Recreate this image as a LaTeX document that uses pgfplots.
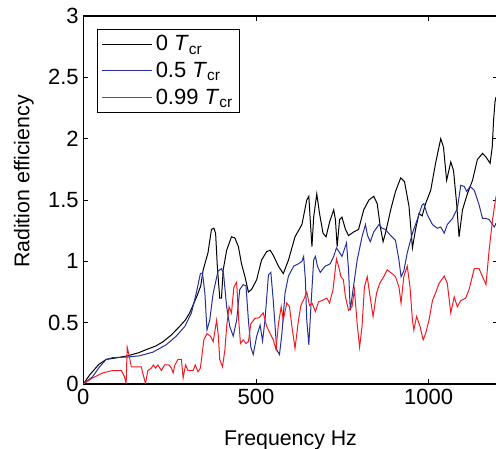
\documentclass[border=0pt]{standalone}
\usepackage{fontspec}
\setmainfont{Liberation Sans}
\usepackage{pgfplots}
\pgfplotsset{compat=1.18}
\definecolor{cblue}{RGB}{38,48,150}
\definecolor{cred}{RGB}{240,28,36}
\begin{document}
\begin{tikzpicture}
\begin{axis}[
  scale only axis,
  width=310.8pt, height=276pt,
  xmin=0, xmax=1200, ymin=0, ymax=3,
  xtick={0,500,1000},
  ytick={0,0.5,1,1.5,2,2.5,3},
  /pgf/number format/1000 sep={},
  /pgf/number format/assume math mode=true,
  tick label style={font=\fontsize{16.5}{19}\selectfont},
  label style={font=\fontsize{16}{19}\selectfont},
  tick align=inside,
  major tick length=3.75pt,
  tick style={black, line width=0.6pt},
  axis line style={black, line width=0.8pt},
  xlabel={Frequency Hz},
  ylabel={Radition efficiency},
  xlabel style={at={(axis description cs:0.5,-0.166)}, anchor=base},
  ylabel style={at={(axis description cs:-0.13,0.55)}, anchor=base, rotate=0},
  legend cell align=left,
  legend style={at={(0.034,0.965)}, anchor=north west, draw=black, line width=0.6pt,
    font=\fontsize{16.5}{19.5}\selectfont, inner xsep=3pt, inner ysep=2.5pt,
    row sep=2.5pt, nodes={inner sep=2.2pt}},
  legend image code/.code={\draw[#1, line width=0.75pt] (0pt,0pt) -- (37.5pt,0pt);},
  every axis plot/.append style={line width=0.75pt},
]
\addplot[color=black, draw=black] coordinates {
(0,0) (20,0.08) (45,0.16) (66,0.20) (100,0.215) (129,0.23) (160,0.255) (182,0.28) (210,0.31) (231,0.345) (255,0.40) (279,0.47) (295,0.52) (308,0.58) (328,0.71) (340,0.80) (347,0.93) (361,1.07) (371,1.26) (378,1.27) (383,1.23) (388,0.96) (395,0.70) (400,0.70) (405,0.93) (415,1.09) (429,1.20) (439,1.19) (449,1.12) (458,0.98) (468,0.875) (478,0.75) (487,0.77) (502,0.85) (516,1.01) (531,1.08) (541,1.09) (550,1.05) (565,0.96) (579,0.90) (594,1.01) (613,1.20) (633,1.30) (647,1.50) (653,1.53) (657,1.34) (662,1.12) (667,1.36) (676,1.55) (684,1.39) (694,1.23) (703,1.20) (713,1.32) (725,1.42) (730,1.34) (735,1.12) (742,1.34) (749,1.36) (759,1.26) (768,1.21) (783,1.24) (797,1.26) (812,1.42) (827,1.50) (841,1.53) (851,1.47) (860,1.28) (868,1.16) (875,1.23) (890,1.42) (904,1.57) (919,1.68) (930,1.65) (943,1.45) (953,1.11) (962,1.26) (972,1.39) (981,1.37) (991,1.47) (1006,1.58) (1020,1.80) (1035,2.00) (1043,1.93) (1052,1.66) (1064,1.81) (1072,1.74) (1081,1.47) (1088,1.20) (1098,1.42) (1112,1.55) (1127,1.66) (1141,1.83) (1156,1.88) (1166,1.85) (1178,1.80) (1184,1.93) (1188,2.15) (1192,2.30) (1195,2.34)
};
\addlegendentry{0 \textit{T}\textsubscript{cr}}
\addplot[color=cblue, draw=cblue] coordinates {
(0,0) (27,0.06) (47,0.14) (66,0.20) (85,0.215) (129,0.22) (163,0.23) (202,0.26) (240,0.32) (269,0.39) (294,0.47) (313,0.58) (327,0.74) (339,0.90) (345,0.905) (352,0.74) (358,0.44) (366,0.52) (376,0.74) (390,0.92) (400,0.94) (406,0.90) (415,0.63) (424,0.47) (434,0.39) (444,0.52) (453,0.77) (463,0.81) (471,0.80) (478,0.52) (485,0.30) (492,0.24) (502,0.39) (512,0.48) (519,0.35) (526,0.52) (536,0.89) (543,0.91) (550,0.68) (560,0.28) (568,0.24) (575,0.41) (584,0.74) (594,0.88) (609,0.96) (623,0.98) (633,1.00) (638,1.04) (643,0.85) (647,0.52) (653,0.32) (659,0.63) (667,1.01) (672,1.04) (678,0.96) (686,0.91) (700,0.96) (715,0.98) (725,1.04) (733,1.11) (740,1.08) (749,1.04) (762,1.15) (768,0.93) (773,0.60) (781,0.77) (793,1.01) (807,1.20) (817,1.30) (823,1.21) (831,1.16) (841,1.24) (856,1.30) (865,1.27) (875,1.26) (890,1.21) (904,1.17) (914,1.01) (920,0.875) (928,0.92) (938,1.07) (953,1.23) (967,1.34) (981,1.46) (986,1.47) (996,1.38) (1011,1.30) (1025,1.27) (1035,1.28) (1045,1.23) (1054,1.30) (1069,1.35) (1083,1.43) (1093,1.62) (1103,1.61) (1110,1.57) (1120,1.61) (1132,1.58) (1146,1.46) (1156,1.35) (1166,1.35) (1175,1.34) (1190,1.28) (1195,1.31)
};
\addlegendentry{0.5 \textit{T}\textsubscript{cr}}
\addplot[color=cred, draw=cred] coordinates {
(0,0) (27,0.05) (56,0.09) (85,0.11) (110,0.11) (119,0.06) (124,0.005) (127,0.30) (132,0.24) (139,0.14) (148,0.14) (168,0.14) (172,0.09) (180,0.005) (187,0.11) (197,0.13) (203,0.155) (209,0.13) (216,0.155) (226,0.11) (235,0.155) (248,0.155) (255,0.13) (260,0.09) (265,0.155) (274,0.20) (284,0.20) (289,0.05) (296,0.155) (303,0.11) (318,0.11) (324,0.155) (332,0.10) (339,0.13) (349,0.36) (358,0.41) (368,0.39) (376,0.345) (386,0.52) (391,0.39) (395,0.20) (403,0.14) (410,0.28) (415,0.47) (422,0.63) (429,0.58) (436,0.79) (444,0.83) (450,0.52) (455,0.33) (463,0.36) (471,0.33) (478,0.345) (485,0.49) (497,0.535) (509,0.54) (521,0.58) (531,0.47) (541,0.41) (550,0.36) (558,0.28) (565,0.49) (573,0.63) (579,0.52) (589,0.66) (597,0.63) (604,0.47) (613,0.29) (623,0.52) (630,0.64) (640,0.70) (647,0.75) (655,0.64) (662,0.66) (672,0.59) (681,0.67) (691,0.68) (705,0.70) (713,0.66) (723,0.77) (733,1.02) (740,0.95) (746,0.875) (753,0.85) (759,0.71) (768,0.60) (778,0.63) (785,0.77) (793,0.49) (800,0.30) (807,0.47) (814,0.79) (822,0.875) (829,0.74) (839,0.55) (849,0.74) (858,0.82) (870,0.875) (880,0.93) (894,0.90) (904,0.875) (914,0.79) (920,0.66) (928,0.875) (938,0.96) (946,0.79) (953,0.52) (957,0.44) (965,0.55) (975,0.47) (984,0.36) (991,0.41) (1001,0.52) (1011,0.68) (1021,0.75) (1030,0.82) (1045,0.88) (1054,0.82) (1064,0.58) (1074,0.71) (1083,0.63) (1093,0.68) (1107,0.70) (1117,0.77) (1132,0.94) (1146,0.94) (1156,0.875) (1166,0.81) (1175,1.09) (1185,1.34) (1195,1.53)
};
\addlegendentry{0.99 \textit{T}\textsubscript{cr}}
\end{axis}
\pgfresetboundingbox
\path[use as bounding box] (-62.5pt,-48.75pt) rectangle (309.5pt,288pt);
\end{tikzpicture}
\end{document}
